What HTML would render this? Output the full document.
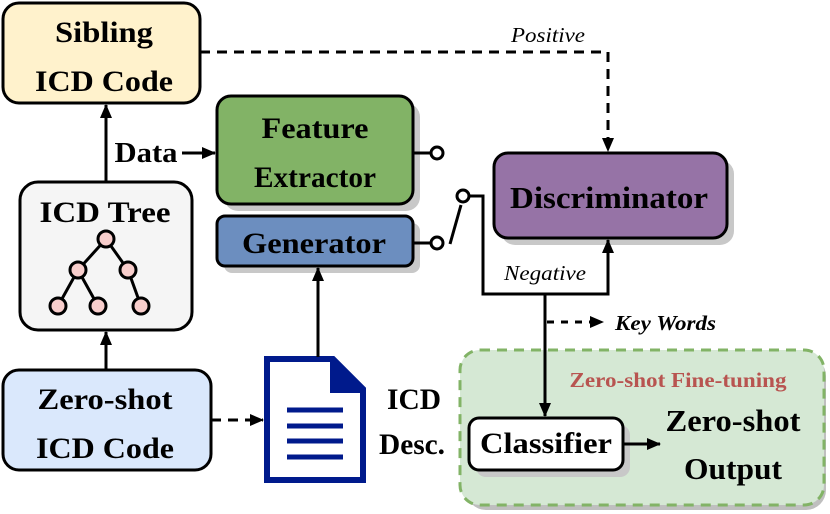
<!DOCTYPE html>
<html><head><meta charset="utf-8"><style>body{margin:0;background:#fff}svg{display:block}svg text{font-family:"Liberation Serif","Times New Roman",serif}</style></head><body>
<svg width="830" height="514" viewBox="0 0 830 514" xmlns="http://www.w3.org/2000/svg">
<defs>
<marker id="b" markerWidth="14" markerHeight="12" refX="13" refY="6" orient="auto" markerUnits="userSpaceOnUse"><path d="M0,0 L14,6 L0,12 z" fill="#000"/></marker>
</defs>
<rect x="466" y="356" width="360" height="154" rx="20" fill="#bfbfbf"/>
<rect x="460" y="350" width="364" height="155" rx="20" fill="#d5e8d4" stroke="#82b366" stroke-width="3" stroke-dasharray="10,7"/>
<text x="678" y="387" font-size="21" font-weight="bold" fill="#b85450" text-anchor="middle" textLength="217" lengthAdjust="spacingAndGlyphs">Zero-shot Fine-tuning</text>
<g fill="#c8c8c8">
<rect x="224" y="103" width="196" height="108" rx="14"/>
<rect x="224" y="223" width="196" height="50" rx="8"/>
<rect x="501" y="160" width="233" height="85" rx="14"/>
<rect x="476" y="425" width="154" height="52" rx="10"/>
</g>
<g stroke="#000" stroke-width="3">
<rect x="3" y="3" width="197" height="100" rx="16" fill="#fff2cc"/>
<rect x="217" y="96" width="196" height="108" rx="14" fill="#82b366"/>
<rect x="217" y="216" width="196" height="50" rx="8" fill="#6c8ebf"/>
<rect x="494" y="153" width="233" height="85" rx="14" fill="#9673a6"/>
<rect x="20" y="182" width="172" height="148" rx="18" fill="#f5f5f5"/>
<rect x="3" y="370" width="208" height="100" rx="16" fill="#dae8fc"/>
<rect x="469" y="418" width="154" height="52" rx="10" fill="#fff"/>
</g>
<g font-weight="bold" font-size="30" text-anchor="middle" lengthAdjust="spacingAndGlyphs">
<text x="104" y="42" textLength="98" lengthAdjust="spacingAndGlyphs">Sibling</text>
<text x="104" y="91" textLength="138" lengthAdjust="spacingAndGlyphs">ICD Code</text>
<text x="315" y="138" textLength="107" lengthAdjust="spacingAndGlyphs">Feature</text>
<text x="315" y="187" textLength="122" lengthAdjust="spacingAndGlyphs">Extractor</text>
<text x="314" y="253" textLength="144" lengthAdjust="spacingAndGlyphs">Generator</text>
<text x="609" y="208" font-size="31" textLength="198" lengthAdjust="spacingAndGlyphs">Discriminator</text>
<text x="105" y="222" textLength="131" lengthAdjust="spacingAndGlyphs">ICD Tree</text>
<text x="105" y="409" textLength="135" lengthAdjust="spacingAndGlyphs">Zero-shot</text>
<text x="105" y="458" textLength="138" lengthAdjust="spacingAndGlyphs">ICD Code</text>
<text x="546" y="453" textLength="132" lengthAdjust="spacingAndGlyphs">Classifier</text>
<text x="733" y="431" font-size="31" textLength="135" lengthAdjust="spacingAndGlyphs">Zero-shot</text>
<text x="733" y="479" font-size="31" textLength="98" lengthAdjust="spacingAndGlyphs">Output</text>
<text x="414" y="409" textLength="54" lengthAdjust="spacingAndGlyphs">ICD</text>
<text x="412" y="454" textLength="66" lengthAdjust="spacingAndGlyphs">Desc.</text>
<text x="146" y="162" font-size="28" textLength="63" lengthAdjust="spacingAndGlyphs">Data</text>
</g>
<g stroke="#000" stroke-width="3" fill="#f8cecc">
<path d="M106,239 L78,270 L58,306 M78,270 L98,306 M106,239 L128,270 L141,306" fill="none"/>
<circle cx="106" cy="239" r="8"/><circle cx="78" cy="270" r="8"/><circle cx="128" cy="270" r="8"/>
<circle cx="58" cy="306" r="8"/><circle cx="98" cy="306" r="8"/><circle cx="141" cy="306" r="8"/>
</g>
<path d="M267,359 L333,359 L363,389 L363,480 L267,480 Z" fill="#fff" stroke="#001a8c" stroke-width="6"/>
<path d="M330,357 L366,393 L330,393 Z" fill="#001a8c"/>
<g stroke="#001a8c" stroke-width="5"><line x1="287" y1="410" x2="343" y2="410"/><line x1="287" y1="426" x2="343" y2="426"/><line x1="287" y1="441" x2="343" y2="441"/><line x1="287" y1="457" x2="343" y2="457"/></g>
<g stroke="#000" stroke-width="3" fill="none">
<path d="M200,52 L608,52 L608,151" stroke-dasharray="10,7" marker-end="url(#b)"/>
<path d="M106,182 L106,105" marker-end="url(#b)"/>
<path d="M182,153 L215,153" marker-end="url(#b)"/>
<path d="M106,370 L106,332" marker-end="url(#b)"/>
<path d="M211,420 L263,420" stroke-dasharray="10,7" marker-end="url(#b)"/>
<path d="M318,357 L318,268" marker-end="url(#b)"/>
<line x1="413" y1="153" x2="431" y2="153"/>
<line x1="413" y1="243" x2="431" y2="243"/>
<line x1="450" y1="244" x2="461" y2="205"/>
<path d="M469,196 L483,196 L483,294 L608,294 L608,240" marker-end="url(#b)"/>
<path d="M545,294 L545,416" marker-end="url(#b)"/>
<path d="M547,322 L603,322" stroke-dasharray="7,7" marker-end="url(#b)"/>
<path d="M623,444 L660,444" marker-end="url(#b)"/>
</g>
<g stroke="#000" stroke-width="3" fill="#fff">
<circle cx="437" cy="153" r="6"/><circle cx="437" cy="243" r="6"/><circle cx="463" cy="196" r="6"/>
</g>
<g font-style="italic" font-size="21">
<text x="548" y="42" text-anchor="middle" textLength="74" lengthAdjust="spacingAndGlyphs">Positive</text>
<text x="545" y="280" text-anchor="middle" textLength="82" lengthAdjust="spacingAndGlyphs">Negative</text>
<text x="615" y="330" font-weight="bold" textLength="101" lengthAdjust="spacingAndGlyphs">Key Words</text>
</g>
</svg>
</body></html>
